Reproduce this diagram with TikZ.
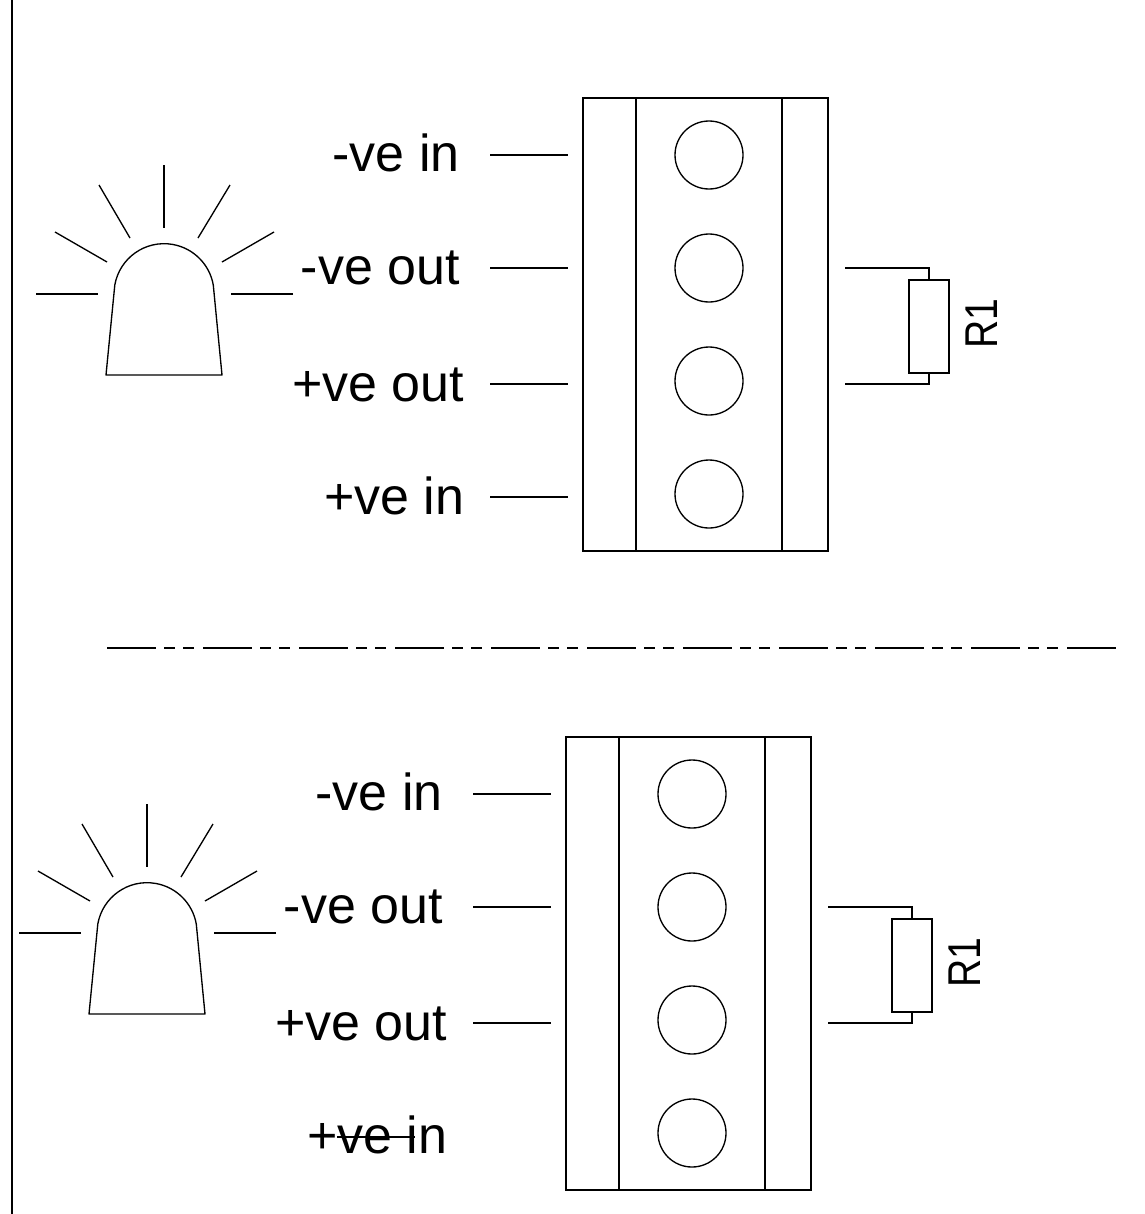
\documentclass[tikz,border=0pt]{standalone}
\usepackage{fontspec}
\setmainfont{Liberation Sans}
\usepackage{tikz}
\usetikzlibrary{calc}

\tikzset{
    wire/.style={draw=black,line width=1pt},
    blockbox/.style={rectangle,draw=black,line width=1pt,minimum width=183.75pt,minimum height=339.75pt,inner sep=0pt},
    terminal/.style={circle,draw=black,line width=1pt,minimum size=51pt,inner sep=0pt},
    resistor/.style={rectangle,draw=black,line width=1pt,fill=white,minimum width=30pt,minimum height=69.75pt,inner sep=0pt},
    pinlabel/.style={anchor=base east,inner sep=0pt,font=\fontsize{39}{44}\selectfont},
    reslabel/.style={anchor=base,rotate=90,xscale=.85,inner sep=0pt,font=\fontsize{34.5}{40}\selectfont},
}

\begin{document}
\begin{tikzpicture}[x=0.75pt,y=-0.75pt]
    \useasboundingbox (0,0) rectangle (1145,1214);

    \coordinate (railtop) at (12,0);
    \coordinate (railbot) at (12,1214);
    \draw [line width=1.1pt] (railtop) -- (railbot);

    % upper unit
    \begin{scope}
        \node [blockbox] (blockA) at (705.5,324.5) {};
        \draw [wire] (636,98) -- (636,551);
        \draw [wire] (782,98) -- (782,551);

        \node [terminal] (termA1) at (709,155) {};
        \node [terminal] (termA2) at (709,268) {};
        \node [terminal] (termA3) at (709,381) {};
        \node [terminal] (termA4) at (709,494) {};

        \node [pinlabel] (labA1) at (460,171) {-ve in};
        \node [pinlabel] (labA2) at (460,284) {-ve out};
        \node [pinlabel] (labA3) at (464.5,401.5) {+ve out};
        \node [pinlabel] (labA4) at (464.5,514.5) {+ve in};

        \coordinate (pinA1) at (490,155);
        \coordinate (pinA2) at (490,268);
        \coordinate (pinA3) at (490,384);
        \coordinate (pinA4) at (490,497);
        \coordinate (endA1) at (568,155);
        \coordinate (endA2) at (568,268);
        \coordinate (endA3) at (568,384);
        \coordinate (endA4) at (568,497);
        \draw [wire] (pinA1) -- (endA1);
        \draw [wire] (pinA2) -- (endA2);
        \draw [wire] (pinA3) -- (endA3);
        \draw [wire] (pinA4) -- (endA4);

        \node [resistor] (resA) at (929,326.5) {};
        \node [reslabel] (resAlab) at (997.5,323.5) {R1};
        \coordinate (resAtop) at (845,268);
        \coordinate (resAbot) at (845,384);
        \draw [wire] (resAtop) -| (resA.north);
        \draw [wire] (resAbot) -| (resA.south);

        % lamp
        \draw [wire,line join=round] (106,375) -- (114.8,285) arc [start angle=190,end angle=350,radius=50] -- (222,375) -- cycle;
        \draw [wire] (36,294) -- (98,294);
        \draw [wire] (55,232) -- (107,262);
        \draw [wire] (99,185) -- (130,238);
        \draw [wire] (164,165) -- (164,228);
        \draw [wire] (230,185) -- (198,238);
        \draw [wire] (274,232) -- (222,262);
        \draw [wire] (293,294) -- (231,294);
    \end{scope}

    % separator
    \coordinate (sepL) at (107,648);
    \coordinate (sepR) at (1117,648);
    \draw [line width=1pt,dash pattern=on 36.75pt off 6pt on 8.25pt off 6pt on 8.25pt off 6.75pt] (sepL) -- (sepR);

    % lower unit
    \begin{scope}[shift={(-17,639)}]
        \node [blockbox] (blockB) at (705.5,324.5) {};
        \draw [wire] (636,98) -- (636,551);
        \draw [wire] (782,98) -- (782,551);

        \node [terminal] (termB1) at (709,155) {};
        \node [terminal] (termB2) at (709,268) {};
        \node [terminal] (termB3) at (709,381) {};
        \node [terminal] (termB4) at (709,494) {};

        \node [pinlabel] (labB1) at (460,171) {-ve in};
        \node [pinlabel] (labB2) at (460,284) {-ve out};
        \node [pinlabel] (labB3) at (464.5,401.5) {+ve out};
        \node [pinlabel] (labB4) at (464.5,514.5) {+ve in};

        \coordinate (pinB1) at (490,155);
        \coordinate (pinB2) at (490,268);
        \coordinate (pinB3) at (490,384);
        \coordinate (pinB4) at (354,498);
        \coordinate (endB1) at (568,155);
        \coordinate (endB2) at (568,268);
        \coordinate (endB3) at (568,384);
        \coordinate (endB4) at (432,498);
        \draw [wire] (pinB1) -- (endB1);
        \draw [wire] (pinB2) -- (endB2);
        \draw [wire] (pinB3) -- (endB3);
        \draw [wire] (pinB4) -- (endB4);

        \node [resistor] (resB) at (929,326.5) {};
        \node [reslabel] (resBlab) at (997.5,323.5) {R1};
        \coordinate (resBtop) at (845,268);
        \coordinate (resBbot) at (845,384);
        \draw [wire] (resBtop) -| (resB.north);
        \draw [wire] (resBbot) -| (resB.south);

        % lamp
        \draw [wire,line join=round] (106,375) -- (114.8,285) arc [start angle=190,end angle=350,radius=50] -- (222,375) -- cycle;
        \draw [wire] (36,294) -- (98,294);
        \draw [wire] (55,232) -- (107,262);
        \draw [wire] (99,185) -- (130,238);
        \draw [wire] (164,165) -- (164,228);
        \draw [wire] (230,185) -- (198,238);
        \draw [wire] (274,232) -- (222,262);
        \draw [wire] (293,294) -- (231,294);
    \end{scope}
\end{tikzpicture}
\end{document}
